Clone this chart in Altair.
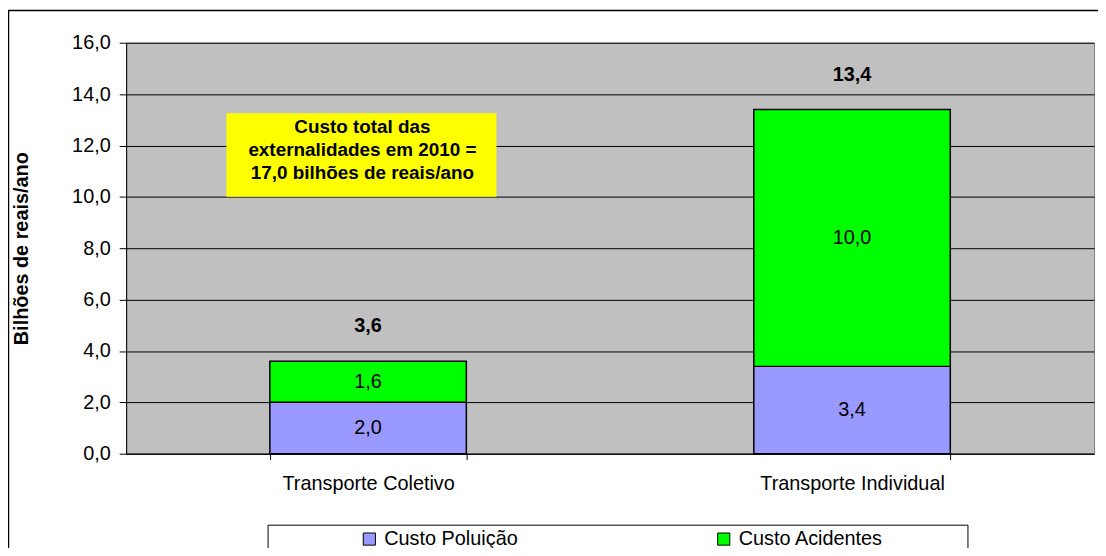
import altair as alt
import pandas as pd

categories = ["Transporte Coletivo", "Transporte Individual"]
poluicao = [2.0, 3.4]
acidentes = [1.6, 10.0]
series_names = ["Custo Poluição", "Custo Acidentes"]
series_colors = ["#9999FF", "#00FF00"]
y_ticks = [0, 2, 4, 6, 8, 10, 12, 14, 16]
note_lines = ["Custo total das", "externalidades em 2010 =", "17,0 bilhões de reais/ano"]
note_y_top = 13.25
note_y_bottom = 10.0


def fmt(v):
    return f"{v:.1f}".replace(".", ",")


rows = []
for i, c in enumerate(categories):
    start = 0.0
    for s, vals in zip(series_names, [poluicao, acidentes]):
        v = vals[i]
        rows.append({"cat": c, "serie": s, "order": series_names.index(s),
                     "y0": start, "y1": start + v, "mid": start + v / 2, "lab": fmt(v)})
        start += v
seg = pd.DataFrame(rows)
tot = pd.DataFrame({"cat": categories,
                    "total": [p + a for p, a in zip(poluicao, acidentes)]})
tot["lab"] = tot["total"].map(fmt)

FONT = "Liberation Sans"
FS = 20

xscale = alt.Scale(domain=categories, paddingInner=0.594, paddingOuter=0.297)
yscale = alt.Scale(domain=[0, 16], nice=False)

bars = alt.Chart(seg).mark_bar(stroke="black", strokeWidth=1.5).encode(
    x=alt.X("cat:N", scale=xscale, sort=categories,
            axis=alt.Axis(title=None, labelAngle=0, labelFontSize=FS, labelFont=FONT,
                          labelColor="black", labelPadding=14, labelLimit=400,
                          tickBand="extent",
                          tickSize=6, tickColor="black", domainColor="black",
                          grid=False)),
    y=alt.Y("y0:Q", scale=yscale,
            axis=alt.Axis(values=y_ticks, title="Bilhões de reais/ano",
                          labelExpr="replace(format(datum.value, '.1f'), '.', ',')",
                          labelFontSize=FS, labelFont=FONT, labelColor="black",
                          labelPadding=9, tickSize=7, tickColor="black",
                          domainColor="black", gridColor="black", gridWidth=1,
                          titleFont=FONT, titleFontSize=20, titleFontWeight="bold",
                          titleColor="black", titleX=-105, titleY=207,
                          titleAngle=-90, titleAlign="center", titleBaseline="middle")),
    y2="y1:Q",
    color=alt.Color("serie:N", scale=alt.Scale(domain=series_names, range=series_colors),
                    legend=alt.Legend(title=None, orient="none", direction="horizontal",
                                      legendX=235, legendY=490, padding=0,
                                      symbolType="square", symbolSize=150,
                                      symbolStrokeColor="black", symbolStrokeWidth=1,
                                      symbolOpacity=1, labelLimit=400,
                                      labelFont=FONT, labelFontSize=FS, labelColor="black",
                                      labelOffset=5, columnPadding=197)),
    order=alt.Order("order:Q"),
)

seg_text = alt.Chart(seg).mark_text(font=FONT, fontSize=FS, color="black").encode(
    x=alt.X("cat:N", scale=xscale, sort=categories),
    y=alt.Y("mid:Q", scale=yscale),
    text="lab:N",
)

tot_text = alt.Chart(tot).mark_text(font=FONT, fontSize=FS, fontWeight="bold",
                                    color="black", dy=-35).encode(
    x=alt.X("cat:N", scale=xscale, sort=categories),
    y=alt.Y("total:Q", scale=yscale),
    text="lab:N",
)

note_df = pd.DataFrame({"top": [note_y_top], "bottom": [note_y_bottom],
                        "mid": [(note_y_top + note_y_bottom) / 2],
                        "txt": ["\n".join(note_lines)]})
note_box = alt.Chart(note_df).mark_rect(fill="#FFFF00").encode(
    x=alt.value(101), x2=alt.value(373),
    y=alt.Y("top:Q", scale=yscale), y2="bottom:Q",
)
note_text = alt.Chart(note_df).mark_text(font=FONT, fontSize=19, fontWeight="bold",
                                         color="black", lineBreak="\n", lineHeight=23,
                                         align="center", baseline="middle", dy=-28).encode(
    x=alt.value(238),
    y=alt.Y("mid:Q", scale=yscale),
    text="txt:N",
)

frame_df = pd.DataFrame({"a": [0]})
legend_box = alt.Chart(frame_df).mark_rect(fill="white", stroke="black", strokeWidth=1,
                                            clip=False).encode(
    x=alt.value(143), x2=alt.value(848), y=alt.value(486), y2=alt.value(560),
)
outer_frame = alt.Chart(frame_df).mark_rect(fill=None, fillOpacity=0, stroke="black",
                                             strokeWidth=1.5, clip=False).encode(
    x=alt.value(-118.5), x2=alt.value(990), y=alt.value(-32.5), y2=alt.value(600),
)

chart = alt.layer(legend_box, outer_frame, bars, seg_text, tot_text, note_box, note_text).properties(
    width=975, height=414,
    autosize=alt.AutoSizeParams(type="none"),
    padding={"left": 119, "top": 33, "right": 4, "bottom": 93},
    background="white",
).configure_view(fill="#C0C0C0", stroke="#808080", strokeWidth=1)

chart.save("out.html", embed_options={"renderer": "svg", "actions": False})
